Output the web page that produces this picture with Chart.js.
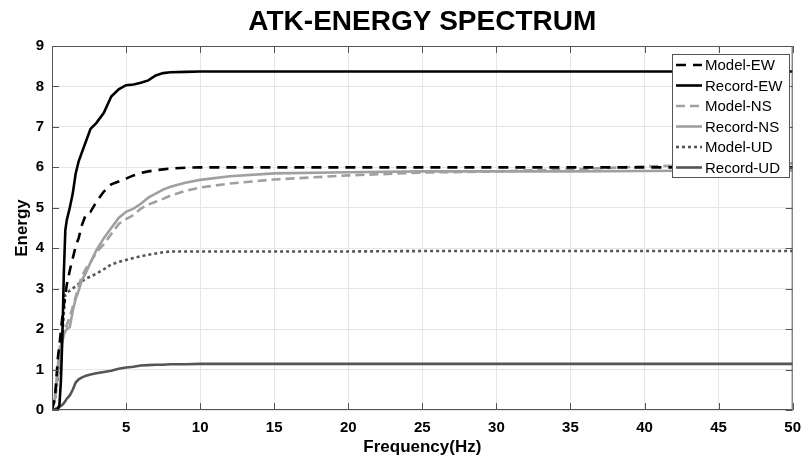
<!DOCTYPE html>
<html>
<head>
<meta charset="utf-8">
<script src="https://cdn.jsdelivr.net/npm/chart.js@4/dist/chart.umd.min.js"></script>
<style>
  html, body { margin: 0; padding: 0; background: #fff; }
  #wrap { width: 810px; height: 463px; }
</style>
</head>
<body>
<div id="wrap"><canvas id="myChart" width="810" height="463"></canvas></div>
<script>
// frequency grid (Hz) shared by all curves
const freq = [0, 0.2, 0.4, 0.5, 0.6, 0.7, 0.8, 0.9, 1.0, 1.2, 1.4, 1.6, 1.8, 2.0, 2.3, 2.6, 3.0, 3.5, 4.0, 4.5,
  5.0, 5.5, 6.0, 6.5, 7.0, 7.5, 8.0, 9, 10, 12, 15, 20, 25, 30, 35, 40, 45, 50];

const modelEW = [0, 0.3, 1.3, 1.6, 1.95, 2.3, 2.6, 2.85, 3.1, 3.45, 3.75, 4.05, 4.25, 4.55, 4.85, 4.9, 5.15, 5.4, 5.58, 5.65,
  5.72, 5.8, 5.86, 5.9, 5.93, 5.95, 5.97, 5.99, 6.0, 6.0, 6.0, 6.0, 6.0, 6.0, 6.0, 6.0, 6.0, 6.0];
const recordEW = [0, 0, 0.02, 0.12, 0.7, 1.8, 3.4, 4.45, 4.7, 5.0, 5.35, 5.85, 6.15, 6.35, 6.65, 6.95, 7.1, 7.35, 7.75, 7.93,
  8.03, 8.05, 8.09, 8.15, 8.27, 8.33, 8.35, 8.36, 8.37, 8.37, 8.37, 8.37, 8.37, 8.37, 8.37, 8.37, 8.37, 8.37];
const modelNS = [0, 0.35, 1.1, 1.5, 1.7, 1.8, 1.9, 2.0, 2.1, 2.3, 2.55, 2.8, 3.05, 3.3, 3.5, 3.65, 3.9, 4.1, 4.35, 4.6,
  4.72, 4.82, 4.98, 5.08, 5.15, 5.22, 5.3, 5.42, 5.5, 5.6, 5.7, 5.8, 5.87, 5.9, 5.95, 6.02, 6.07, 6.1];
const recordNS = [0, 0.3, 0.9, 1.3, 1.55, 1.7, 1.85, 1.95, 2.0, 2.05, 2.45, 2.75, 2.95, 3.2, 3.4, 3.65, 3.95, 4.25, 4.5, 4.75,
  4.9, 4.98, 5.1, 5.25, 5.35, 5.45, 5.52, 5.62, 5.69, 5.78, 5.85, 5.88, 5.9, 5.9, 5.9, 5.91, 5.92, 5.92];
const modelUD = [0, 0.25, 0.82, 1.2, 1.55, 1.85, 2.4, 2.85, 2.9, 2.95, 3.0, 3.07, 3.12, 3.18, 3.25, 3.3, 3.37, 3.48, 3.6, 3.66,
  3.71, 3.76, 3.8, 3.84, 3.87, 3.9, 3.92, 3.92, 3.92, 3.92, 3.92, 3.92, 3.93, 3.93, 3.93, 3.93, 3.93, 3.93];
const recordUD = [0, 0.02, 0.06, 0.08, 0.1, 0.13, 0.17, 0.22, 0.28, 0.36, 0.5, 0.68, 0.76, 0.8, 0.85, 0.88, 0.91, 0.94, 0.97, 1.02,
  1.05, 1.07, 1.1, 1.11, 1.12, 1.12, 1.13, 1.13, 1.14, 1.14, 1.14, 1.14, 1.14, 1.14, 1.14, 1.14, 1.14, 1.14];

const xTicks = [0, 5, 10, 15, 20, 25, 30, 35, 40, 45, 50];
const yTicks = [0, 1, 2, 3, 4, 5, 6, 7, 8, 9];

const FONT = "'Liberation Sans', Arial, sans-serif";

function pts(vals) {
  return freq.map((f, i) => ({ x: f, y: vals[i] }));
}

function series(label, vals, color, width, dash) {
  return {
    label: label,
    data: pts(vals),
    borderColor: color,
    backgroundColor: color,
    borderWidth: width,
    borderDash: dash,
    pointRadius: 0,
    tension: 0,
    fill: false
  };
}

// title, axes box with inward ticks, and the legend box in the upper right
const boxPlugin = {
  id: 'boxPlugin',
  afterDraw(chart) {
    const c = chart.ctx;
    const a = chart.chartArea;
    const xs = chart.scales.x, ys = chart.scales.y;
    c.save();

    c.fillStyle = '#000';
    c.font = 'bold 28px ' + FONT;
    c.textAlign = 'center';
    c.textBaseline = 'middle';
    c.fillText('ATK-ENERGY SPECTRUM', (a.left + a.right) / 2, 22);

    c.strokeStyle = '#555';
    c.lineWidth = 1;
    c.strokeRect(a.left + 0.5, a.top + 0.5, a.right - a.left - 1, a.bottom - a.top - 1);
    c.beginPath();
    xTicks.forEach(t => {
      const px = Math.round(xs.getPixelForValue(t)) + 0.5;
      c.moveTo(px, a.bottom); c.lineTo(px, a.bottom - 7);
      c.moveTo(px, a.top); c.lineTo(px, a.top + 7);
    });
    yTicks.forEach(t => {
      const py = Math.round(ys.getPixelForValue(t)) + 0.5;
      c.moveTo(a.left, py); c.lineTo(a.left + 7, py);
      c.moveTo(a.right, py); c.lineTo(a.right - 7, py);
    });
    c.stroke();

    // legend
    const lx = 672, ly = 54, lw = 117, lh = 123;
    c.fillStyle = '#fff';
    c.fillRect(lx, ly, lw, lh);
    c.strokeStyle = '#555';
    c.strokeRect(lx + 0.5, ly + 0.5, lw, lh);
    c.font = '15px ' + FONT;
    c.textAlign = 'left';
    chart.data.datasets.forEach((ds, i) => {
      const y = ly + 11 + i * 20.5;
      c.strokeStyle = ds.borderColor;
      c.lineWidth = ds.borderWidth;
      c.setLineDash(ds.borderDash || []);
      c.beginPath();
      c.moveTo(lx + 4, y); c.lineTo(lx + 30, y);
      c.stroke();
      c.setLineDash([]);
      c.fillStyle = '#000';
      c.fillText(ds.label, lx + 33, y + 1);
    });
    c.restore();
  }
};

const ctx = document.getElementById('myChart').getContext('2d');

const chart = new Chart(ctx, {
  type: 'line',
  data: {
    datasets: [
      series('Model-EW', modelEW, '#000000', 2.6, [10, 7]),
      series('Record-EW', recordEW, '#000000', 2.6, []),
      series('Model-NS', modelNS, '#a0a0a0', 2.6, [9, 5]),
      series('Record-NS', recordNS, '#a0a0a0', 2.6, []),
      series('Model-UD', modelUD, '#555555', 2.6, [3, 3]),
      series('Record-UD', recordUD, '#555555', 2.6, [])
    ]
  },
  options: {
    responsive: false,
    animation: false,
    layout: { padding: { top: 46, right: 14, left: 0, bottom: 0 } },
    plugins: {
      legend: { display: false },
      title: { display: false },
      tooltip: { enabled: false }
    },
    scales: {
      x: {
        type: 'linear',
        min: 0,
        max: 50,
        afterFit(s) { s.height = 53; },
        afterBuildTicks(s) { s.ticks = xTicks.map(v => ({ value: v })); },
        ticks: {
          padding: 9,
          color: '#000',
          font: { family: FONT, size: 15, weight: 'bold' },
          maxRotation: 0,
          callback: v => (v === 0 ? '' : v)
        },
        grid: { color: '#e6e6e6', drawTicks: false },
        border: { display: false },
        title: {
          display: true,
          text: 'Frequency(Hz)',
          color: '#000',
          font: { family: FONT, size: 17, weight: 'bold' },
          padding: { top: 4, bottom: 5 }
        }
      },
      y: {
        min: 0,
        max: 9,
        afterFit(s) { s.width = 52; },
        afterBuildTicks(s) { s.ticks = yTicks.map(v => ({ value: v })); },
        ticks: {
          padding: 8,
          color: '#000',
          font: { family: FONT, size: 15, weight: 'bold' }
        },
        grid: { color: '#e6e6e6', drawTicks: false },
        border: { display: false },
        title: {
          display: true,
          text: 'Energy',
          color: '#000',
          font: { family: FONT, size: 17, weight: 'bold' },
          padding: { top: 12, bottom: 0 }
        }
      }
    }
  },
  plugins: [boxPlugin]
});
</script>
</body>
</html>
